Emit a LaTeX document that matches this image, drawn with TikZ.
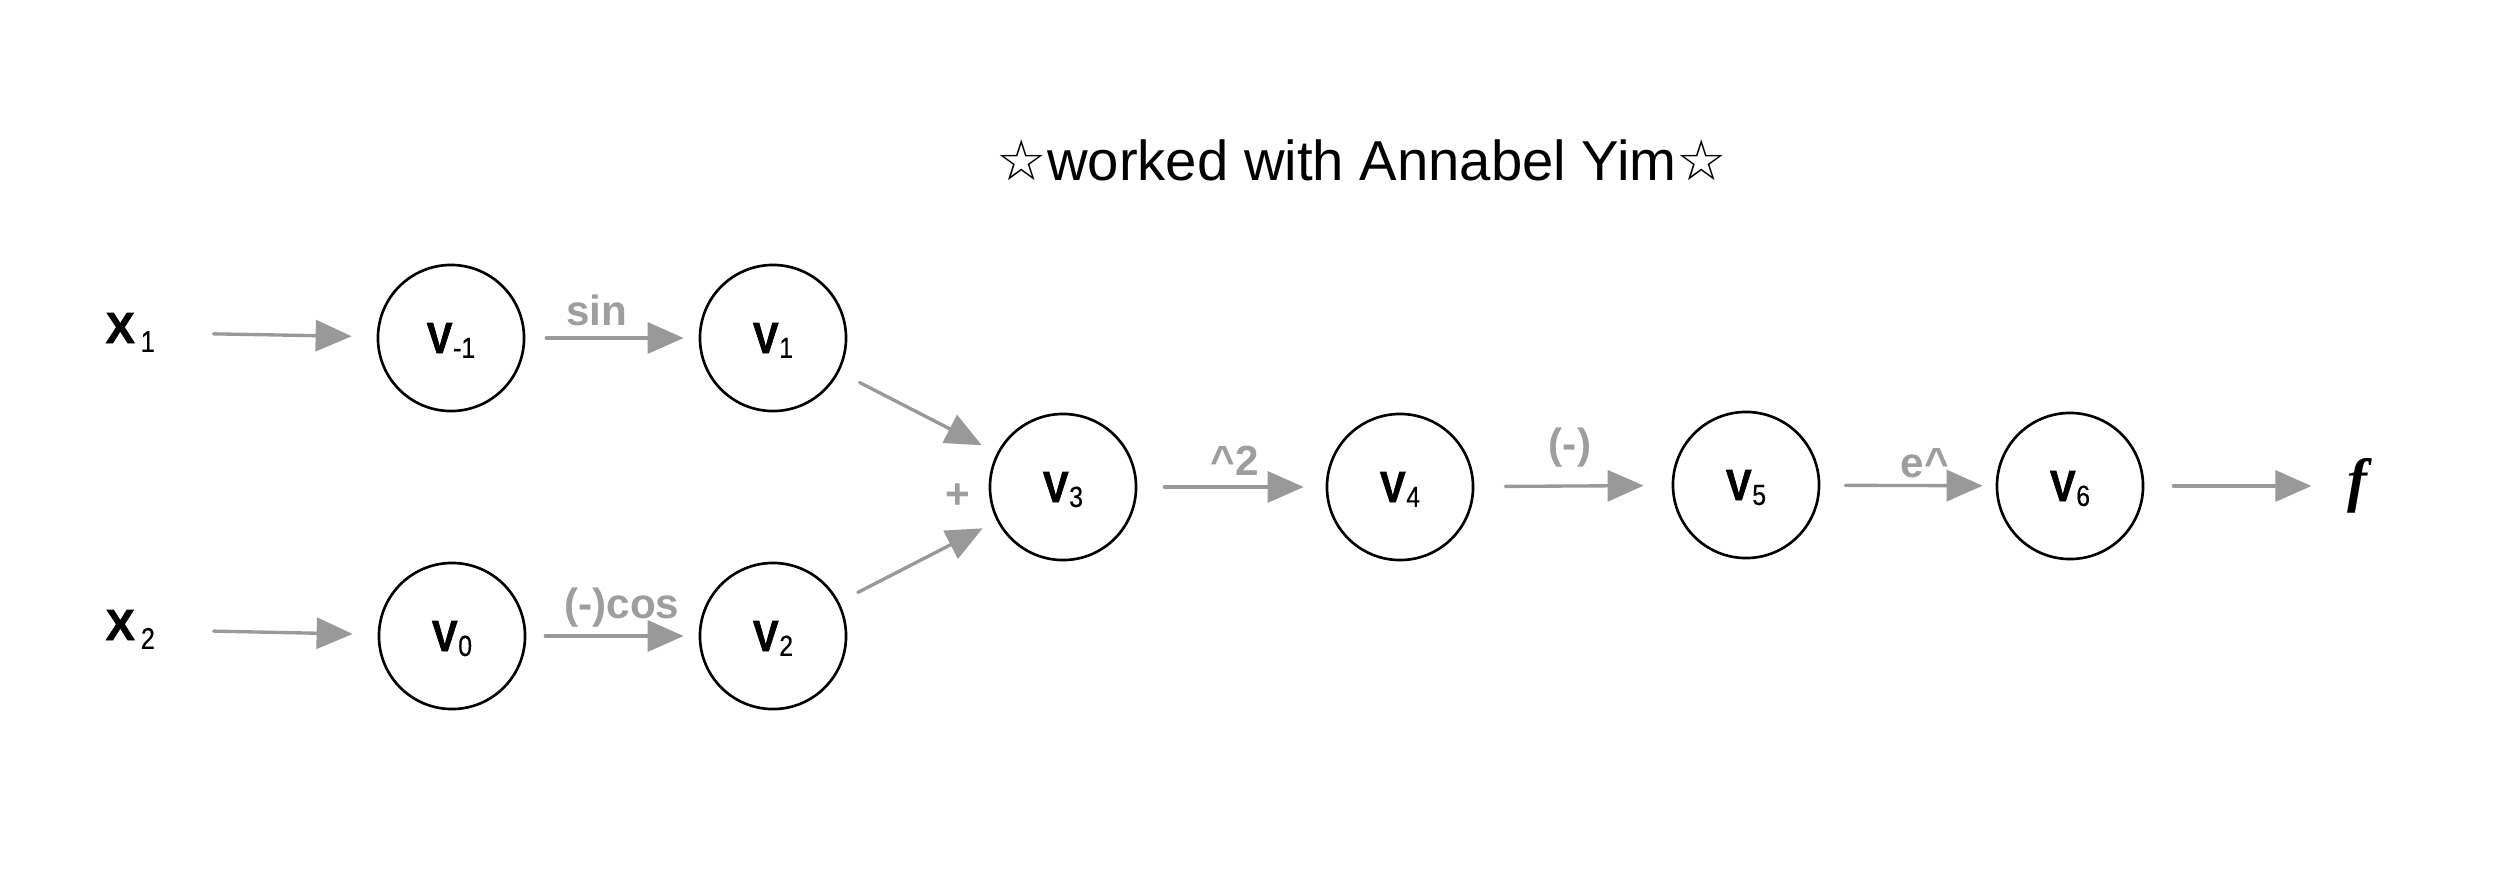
\documentclass[tikz,border=0pt]{standalone}
\usepackage{fontspec}
\setmainfont{Liberation Sans}
\newfontfamily\starfont{DejaVu Sans}
\newfontfamily\ffont{Liberation Serif}
\newfontfamily\vfont{Liberation Sans Bold}[FakeStretch=0.88,FakeBold=1.6]
\newfontfamily\xfont{Liberation Sans Bold}[FakeBold=1.6]
\newfontfamily\subfont{Liberation Sans}[FakeStretch=0.85,FakeBold=0.4]
\usetikzlibrary{arrows.meta}
\definecolor{arrgray}{RGB}{153,153,153}
\definecolor{labgray}{RGB}{158,158,158}
\newcommand{\vlab}[1]{{\vfont V}\kern0.2pt\smash{\raisebox{-1.4pt}{\fontsize{8.3}{9}\subfont #1}}}
\newcommand{\xlab}[1]{{\xfont X}\kern1.7pt\raisebox{-2.5pt}{\fontsize{8.5}{9}\subfont #1}}
\begin{document}
\begin{tikzpicture}[x=0.01cm,y=-0.01cm,
  vnode/.style={circle,draw=black,line width=0.75pt,minimum size=1.46cm,inner sep=0pt,
    font=\fontsize{12.4}{14}\selectfont},
  xnode/.style={anchor=base west,inner sep=0pt,font=\fontsize{12.4}{14}\selectfont},
  arr/.style={draw=arrgray,line width=0.95pt,line cap=round,
    -{Triangle[length=0.36cm,width=0.31cm]}},
  lab/.style={text=labgray,font=\fontsize{12}{14}\selectfont\bfseries,inner sep=0pt,anchor=base},
]
\fill[white] (0,0) rectangle (2518,881);
\useasboundingbox (0,0) rectangle (2518,881);

% handwritten note
\node[font=\fontsize{16}{19}\selectfont,anchor=base,inner sep=0pt] (note) at (1362,180)
  {{\starfont ☆}worked with Annabel Yim{\starfont ☆}};

% inputs
\node[xnode] (x1) at (105,343) {\xlab{1}};
\node[xnode] (x2) at (105,640) {\xlab{2}};

% circles
\node[vnode] (vm1) at (451,338) {\vlab{-1}};
\node[vnode] (v1)  at (773,338) {\vlab{1}};
\node[vnode] (v0)  at (452,636) {\vlab{0}};
\node[vnode] (v2)  at (773,636) {\vlab{2}};
\node[vnode] (v3)  at (1063,487) {\vlab{3}};
\node[vnode] (v4)  at (1400,487) {\vlab{4}};
\node[vnode] (v5)  at (1746,485) {\vlab{5}};
\node[vnode] (v6)  at (2070,486) {\vlab{6}};
\node[inner sep=0pt,font=\ffont\bfseries\itshape\fontsize{17}{20}\selectfont] (f) at (2357,486) {f};

% labels
\node[lab] (lsin) at (597,325) {sin};
\node[lab] (lcos) at (622,618) {(-)cos};
\node[lab] (lsq)  at (1235,475) {\textasciicircum2};
\node[lab] (lneg) at (1570,458) {(-)};
\node[lab] (lexp) at (1925,477) {e\textasciicircum};
\node[lab,anchor=center] (lplus) at (958,496) {+};

% connectors
\draw[arr,shorten <=0.58cm,shorten >=0.25cm] (x1) -- (vm1);
\draw[arr,shorten <=0.58cm,shorten >=0.25cm] (x2) -- (v0);
\draw[arr,shorten <=0.21cm,shorten >=0.15cm] (vm1) -- (v1);
\draw[arr,shorten <=0.19cm,shorten >=0.15cm] (v0) -- (v2);
\draw[arr,shorten <=0.23cm,shorten >=0.17cm] (v1) -- (v3);
\draw[arr,shorten <=0.21cm,shorten >=0.16cm] (v2) -- (v3);
\draw[arr,shorten <=0.27cm,shorten >=0.22cm] (v3) -- (v4);
\draw[arr,shorten <=0.31cm,shorten >=0.28cm] (v4) -- (v5);
\draw[arr,shorten <=0.25cm,shorten >=0.13cm] (v5) -- (v6);
\draw[arr,shorten <=0.29cm,shorten >=0.35cm] (v6) -- (f);
\end{tikzpicture}
\end{document}
